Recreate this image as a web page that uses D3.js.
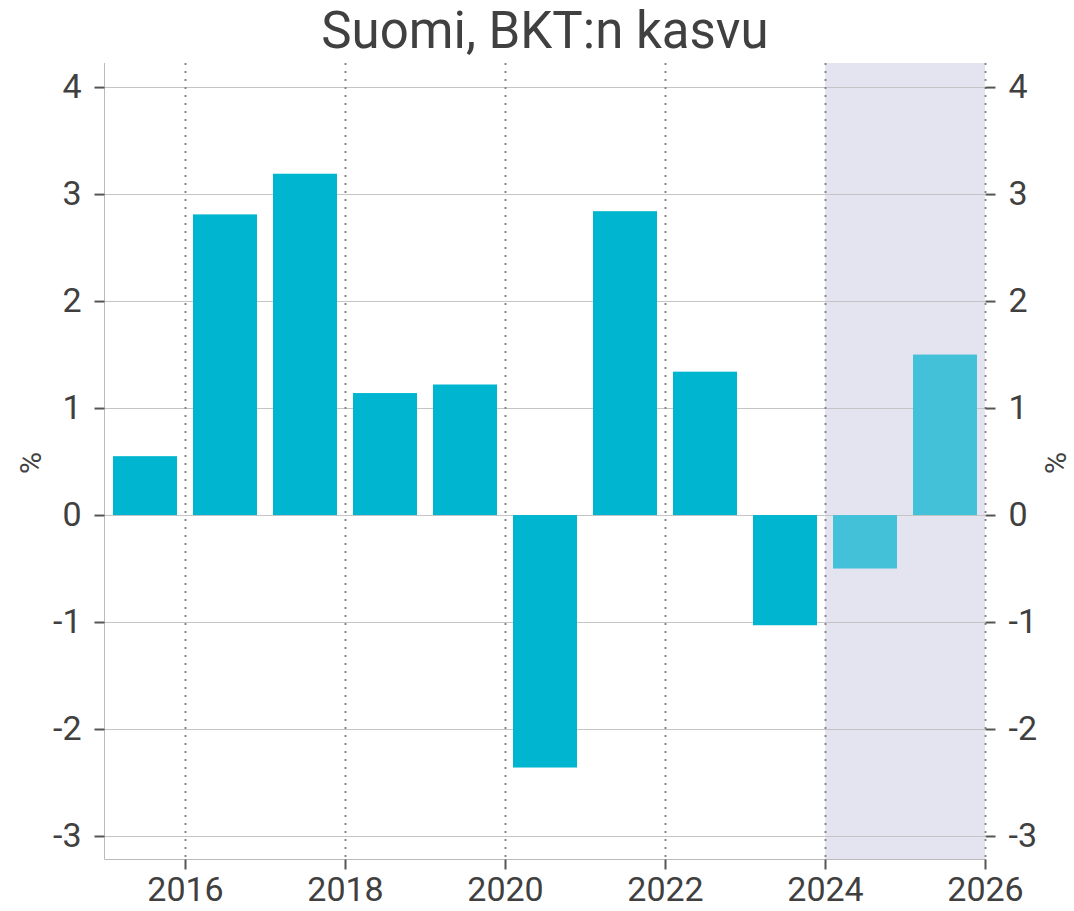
<!DOCTYPE html>
<html>
<head>
<meta charset="utf-8">
<script src="https://cdn.jsdelivr.net/npm/d3@7"></script>
<style>
  body { margin: 0; background: #fff; }
  text { font-family: Roboto, "Noto Sans", sans-serif; fill: #404040; }
</style>
</head>
<body>
<svg id="chart" width="1074" height="911"></svg>
<script>
// data
var years = [2015, 2016, 2017, 2018, 2019, 2020, 2021, 2022, 2023, 2024, 2025];
var growth = [0.55, 2.81, 3.19, 1.14, 1.22, -2.36, 2.84, 1.34, -1.03, -0.5, 1.5];
var forecastFrom = 2024;
var yTicks = [-3, -2, -1, 0, 1, 2, 3, 4];
var xTicks = [2016, 2018, 2020, 2022, 2024, 2026];

var margin = {top: 63, left: 105, right: 89, bottom: 52};
var W = 1074, H = 911;
var yMin = -3.215, yMax = 4.225;

var svg = d3.select('#chart');

var x = d3.scaleLinear().domain([2015, 2026]).range([margin.left, W - margin.right]);
var y = d3.scaleLinear().domain([yMin, yMax]).range([H - margin.bottom, margin.top]);

// forecast shading
svg.append('rect')
  .attr('x', x(forecastFrom))
  .attr('y', margin.top)
  .attr('width', x(2026) - x(forecastFrom))
  .attr('height', y(yMin) - margin.top)
  .attr('fill', '#e4e4f0');

// horizontal grid
svg.append('g').selectAll('line').data(yTicks).enter().append('line')
  .attr('x1', margin.left).attr('x2', x(2026))
  .attr('y1', function(d) { return Math.round(y(d)) + 0.5; })
  .attr('y2', function(d) { return Math.round(y(d)) + 0.5; })
  .attr('stroke', '#c4c4c4').attr('stroke-width', 1);

// vertical dotted lines
svg.append('g').selectAll('line').data(xTicks).enter().append('line')
  .attr('x1', function(d) { return Math.round(x(d)) + 0.5; })
  .attr('x2', function(d) { return Math.round(x(d)) + 0.5; })
  .attr('y1', margin.top).attr('y2', y(yMin))
  .attr('stroke', '#888').attr('stroke-width', 2)
  .attr('stroke-dasharray', '2,6');

// bars
var pad = 8;
svg.append('g').selectAll('rect').data(years).enter().append('rect')
  .attr('x', function(d) { return x(d) + pad; })
  .attr('width', function(d) { return x(d + 1) - x(d) - 2 * pad; })
  .attr('y', function(d, i) { return y(Math.max(0, growth[i])); })
  .attr('height', function(d, i) { return Math.abs(y(growth[i]) - y(0)); })
  .attr('fill', function(d) { return d >= forecastFrom ? '#42c1d9' : '#00b5cf'; });

// left axis line + bottom axis line
svg.append('line')
  .attr('x1', margin.left - 0.5).attr('x2', margin.left - 0.5)
  .attr('y1', margin.top).attr('y2', Math.round(y(yMin)) + 0.5)
  .attr('stroke', '#bbb');
svg.append('line')
  .attr('x1', margin.left - 0.5).attr('x2', x(2026) + 1)
  .attr('y1', Math.round(y(yMin)) + 0.5).attr('y2', Math.round(y(yMin)) + 0.5)
  .attr('stroke', '#bbb');

// y axes
var fmt = function(d) { return d < 0 ? '-' + Math.abs(d) : d; };
var yAxisL = d3.axisLeft(y).tickValues(yTicks).tickSize(10).tickPadding(13).tickFormat(fmt);
var gl = svg.append('g').attr('transform', 'translate(' + (margin.left - 0.5) + ',0)').call(yAxisL);
var yAxisR = d3.axisRight(y).tickValues(yTicks).tickSize(10).tickPadding(13).tickFormat(fmt);
var gr = svg.append('g').attr('transform', 'translate(' + (x(2026) + 0.5) + ',0)').call(yAxisR);

var xAxis = d3.axisBottom(x).tickValues(xTicks).tickSize(10).tickPadding(7).tickFormat(d3.format('d'));
var gx = svg.append('g').attr('transform', 'translate(0,' + (Math.round(y(yMin)) + 0.5) + ')').call(xAxis);

[gl, gr, gx].forEach(function(g) {
  g.select('.domain').remove();
  g.selectAll('.tick line').attr('stroke', '#555').attr('stroke-width', 2);
  g.selectAll('.tick text').attr('font-size', 34).attr('fill', '#404040')
    .style('font-family', 'Roboto, sans-serif');
});

// unit labels
svg.append('text').attr('transform', 'translate(41,463) rotate(-90)')
  .attr('text-anchor', 'middle').attr('font-size', 30).text('%');
svg.append('text').attr('transform', 'translate(1066,463) rotate(-90)')
  .attr('text-anchor', 'middle').attr('font-size', 30).text('%');

// title
svg.append('text').attr('x', (margin.left + x(2026)) / 2).attr('y', 48)
  .attr('text-anchor', 'middle').attr('font-size', 51).text('Suomi, BKT:n kasvu');
</script>
</body>
</html>
